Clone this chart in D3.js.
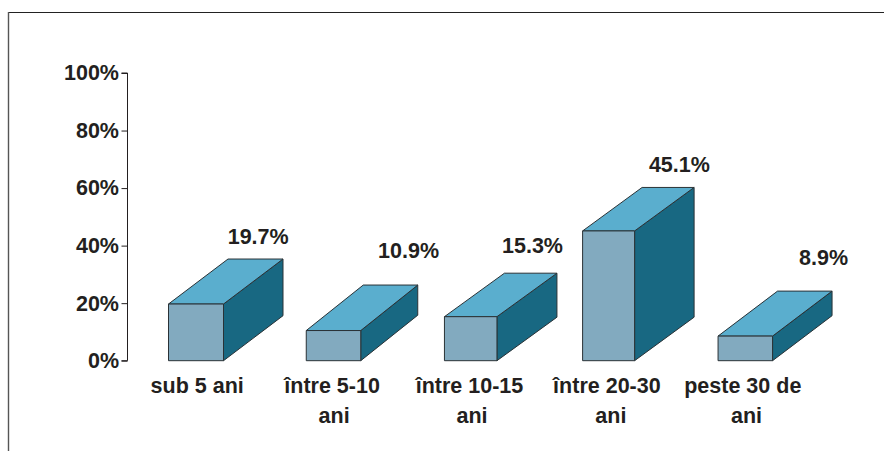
<!DOCTYPE html>
<html><head><meta charset="utf-8">
<style>html,body{margin:0;padding:0;background:#fff}svg{display:block}
text{font-family:"Liberation Sans",Arial,sans-serif;font-weight:700;fill:#231f20;font-size:21.5px}</style>
<script src="https://cdn.jsdelivr.net/npm/d3@7"></script></head><body>
<svg id="c" width="884" height="451"></svg>
<script>
const categories = [["sub 5 ani"],["între 5-10","ani"],["între 10-15","ani"],["între 20-30","ani"],["peste 30 de","ani"]];
const values = [19.7,10.9,15.3,45.1,8.9];
const valueLabels = ["19.7%","10.9%","15.3%","45.1%","8.9%"];
const yTicks = [0,20,40,60,80,100];

const svg = d3.select("#c");
// per-bar drawing adjustments: centre nudge, width, depth x, depth y, top nudge
const shapes = [[0.3,55,59.5,45,0],[0.4,54.5,57,45.5,1.2],[0.2,52.5,60,43.5,0],[0.7,52,59.5,43.5,0],[0,54.5,59.5,45,1]];
const labelOffsets = [[62.5,-60],[75.5,-71],[62,-63.5],[71.5,-58.7],[78.3,-70]];
const catOffsets = [[1.5],[-1,1],[-1,1.5],[-1,3],[-2.5,1.2]];
const y = d3.scaleLinear().domain([0,100]).range([360.7,73]);
const x = d3.scaleBand().domain(d3.range(5)).range([127,814]).padding(0);

svg.append("path").attr("d","M8,12.5H884").attr("fill","none").attr("stroke","#222").attr("stroke-width",1);
svg.append("path").attr("d","M8.5,12V451").attr("fill","none").attr("stroke","#555").attr("stroke-width",1.4);

const axis = svg.append("g").attr("transform","translate(127.5,0)").call(d3.axisLeft(y).tickValues(yTicks).tickSize(6).tickPadding(2.5).tickFormat(d=>d+"%"));
axis.selectAll("path,line").attr("stroke","#231f20").attr("stroke-width",1);
axis.selectAll("text").attr("style","font-size:21.5px;font-family:'Liberation Sans';font-weight:700;fill:#231f20");
axis.select(".domain").attr("d",`M-6,${y(100)}H0V${y(0)}H-6`);

const bars = svg.selectAll("g.bar").data(values).join("g").attr("class","bar");
const cx = (d,i)=>x(i)+x.bandwidth()/2;
const left = (d,i)=>cx(d,i)+shapes[i][0]-shapes[i][1]/2;
const right = (d,i)=>left(d,i)+shapes[i][1];
const top_ = (d,i)=>y(d)+shapes[i][4];
const stroke = {stroke:"#2a3236","stroke-width":1,"stroke-linejoin":"round"};
function sty(s){Object.entries(stroke).forEach(([k,v])=>s.attr(k,v));return s;}
sty(bars.append("path").attr("fill","#186882").attr("d",(d,i)=>{const r=right(d,i),t=top_(d,i),b=y(0),DX=shapes[i][2],DY=shapes[i][3];
  return `M${r},${t}L${r+DX},${t-DY}V${b-DY}L${r},${b}Z`;}));
sty(bars.append("path").attr("fill","#5aaece").attr("d",(d,i)=>{const l=left(d,i),r=right(d,i),t=top_(d,i),DX=shapes[i][2],DY=shapes[i][3];
  return `M${l},${t}L${l+DX},${t-DY}H${r+DX}L${r},${t}Z`;}));
sty(bars.append("rect").attr("fill","#82aabf").attr("x",left).attr("width",(d,i)=>shapes[i][1])
  .attr("y",top_).attr("height",(d,i)=>y(0)-top_(d,i)));

bars.append("text").attr("text-anchor","middle").attr("x",(d,i)=>cx(d,i)+labelOffsets[i][0])
  .attr("y",(d,i)=>y(d)+labelOffsets[i][1]).text((d,i)=>valueLabels[i]);

const cat = svg.selectAll("text.cat").data(categories).join("text").attr("class","cat").attr("text-anchor","middle")
  .attr("data-i",(d,i)=>i).attr("y",392.5);
cat.selectAll("tspan").data(d=>d).join("tspan")
  .attr("x",function(d,j){const i=+this.parentNode.getAttribute("data-i");return cx(null,i)+catOffsets[i][j];})
  .attr("dy",(d,j)=>j?30.5:0).text(d=>d);
</script></body></html>
